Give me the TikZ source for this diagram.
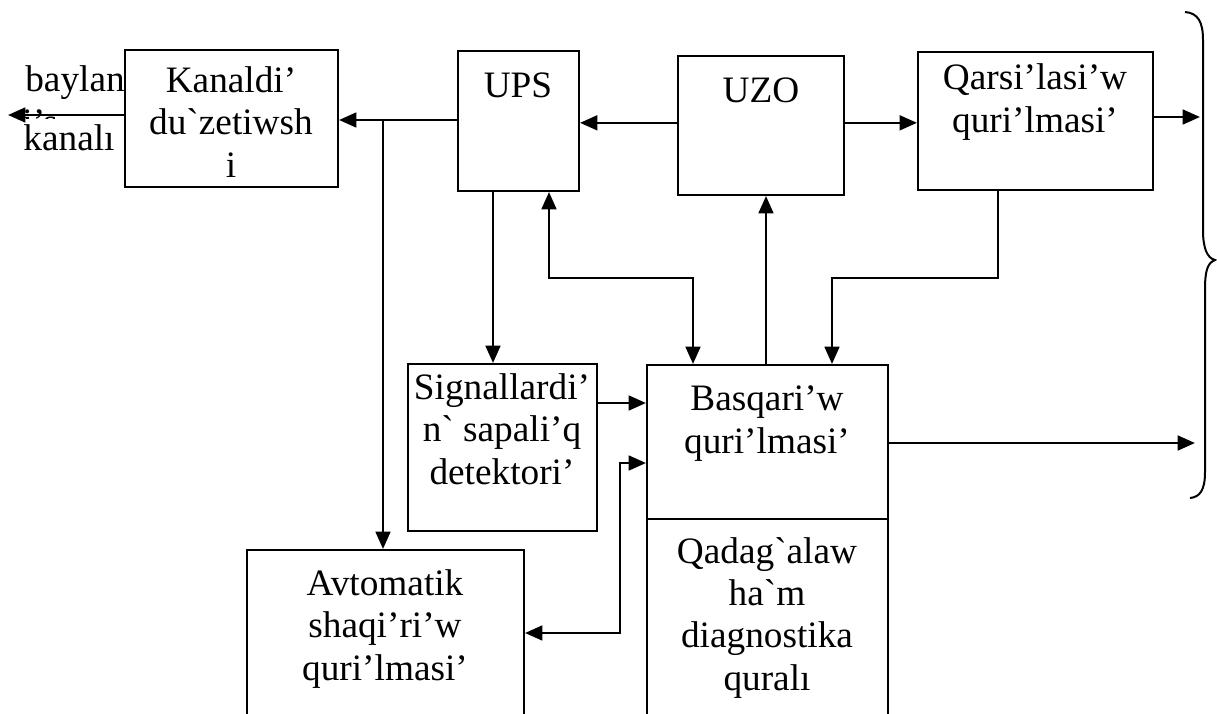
\documentclass[tikz,border=0pt]{standalone}
\usepackage{fontspec}
\setmainfont{Liberation Serif}[Ligatures=TeXOff]
\usepackage{tikz}
\usetikzlibrary{arrows.meta, fit}

\begin{document}
\begin{tikzpicture}[
  x=0.0132cm, y=-0.0132cm,
  frame/.style={draw, line width=0.75pt, inner sep=0pt},
  txt/.style={align=center, inner sep=0pt, anchor=base,
              font=\fontsize{14}{15.8}\selectfont},
  arrow/.style={-{Triangle[length=6.5pt,width=5.5pt]}, line width=1pt},
  dbl/.style={{Triangle[length=6.5pt,width=5.5pt]}-{Triangle[length=6.5pt,width=5.5pt]}, line width=1pt}
]
  \useasboundingbox (0,0) rectangle (1217,714);

  % 上排 (文字位置按最后一行基线)
  \node[frame, fit={(125,50) (338,187)}] (kan) {};
  \node[frame, fit={(458,51) (579,191)}] (ups) {};
  \node[frame, fit={(678,56) (844,195)}] (uzo) {};
  \node[frame, fit={(918,52) (1153,190)}] (qar) {};
  \node[txt] (kanT) at (231,177) {Kanaldi’\\du`zetiwsh\\i};
  \node[txt] (upsT) at (518,97) {UPS};
  \node[txt] (uzoT) at (761,102) {UZO};
  \node[txt] (qarT) at (1035,132) {Qarsi’lasi’w\\quri’lmasi’};

  % 左边文字
  \node[txt] (bylA) at (75,92) {baylan};
  \begin{scope}
    \clip (20,100) rectangle (124,118);
    \node[txt] (bylB) at (40,134) {i’s};
  \end{scope}
  \node[txt] (bylC) at (69,150) {kanalı};

  % 下排
  \node[frame, fit={(408,364) (597,531)}] (sig) {};
  \node[frame, fit={(647,365) (888,519)}] (bas) {};
  \node[frame, fit={(647,519) (888,740)}] (qad) {};
  \node[frame, fit={(247,550) (524,740)}] (avt) {};
  \node[txt] (sigT) at (502,484) {Signallardi’\\n` sapali’q\\detektori’};
  \node[txt] (basT) at (767,453) {Basqari’w\\quri’lmasi’};
  \node[txt] (qadT) at (767,690) {Qadag`alaw\\ha`m\\diagnostika\\quralı};
  \node[txt] (avtT) at (385,680) {Avtomatik\\shaqi’ri’w\\quri’lmasi’};

  % 辅助点
  \coordinate (outL) at (8,115);
  \coordinate (outR) at (1200,117);
  \coordinate (outB) at (1195,443);
  \coordinate (br) at (383,120);
  \coordinate (c1) at (493,0);
  \coordinate (jA) at (549,278);
  \coordinate (jB) at (693,278);
  \coordinate (jC) at (998,278);
  \coordinate (jD) at (832,278);
  \coordinate (rowS) at (600,403);
  \coordinate (jF) at (620,633);
  \coordinate (jG) at (620,463);

  % 箭头
  \draw[arrow] (kan.west |- outL) -- (outL);
  \draw[arrow] (ups.west |- br) -- (kan.east |- br);
  \draw[arrow] (br) -- (br |- avt.north);
  \draw[arrow] ([yshift=1pt]uzo.west) -- ([yshift=1pt]uzo.west -| ups.east);
  \draw[arrow] ([yshift=1pt]uzo.east) -- ([yshift=1pt]uzo.east -| qar.west);
  \draw[arrow] (qar.east |- outR) -- (outR);

  \draw[arrow] (ups.south -| c1) -- (sig.north -| c1);
  \draw[dbl] (ups.south -| jA) -- (jA) -- (jB) -- (jB |- bas.north);
  \draw[arrow] (bas.north -| 766,0) -- (uzo.south -| 766,0);
  \draw[arrow] (qar.south -| jC) -- (jC) -- (jD) -- (jD |- bas.north);

  \draw[arrow] (sig.east |- rowS) -- (bas.west |- rowS);
  \draw[dbl] (avt.east |- jF) -- (jF) -- (jG) -- (bas.west |- jG);
  \draw[arrow] (bas.east |- outB) -- (outB);

  % 大括号
  \draw[line width=0.75pt] (1185,12) .. controls (1198,13) and (1203,22) .. (1203,40)
    -- (1203,230) .. controls (1203,248) and (1207,258) .. (1215,260)
    .. controls (1207,263) and (1205,272) .. (1205,290)
    -- (1205,472) .. controls (1205,490) and (1200,497) .. (1190,498);
\end{tikzpicture}
\end{document}
